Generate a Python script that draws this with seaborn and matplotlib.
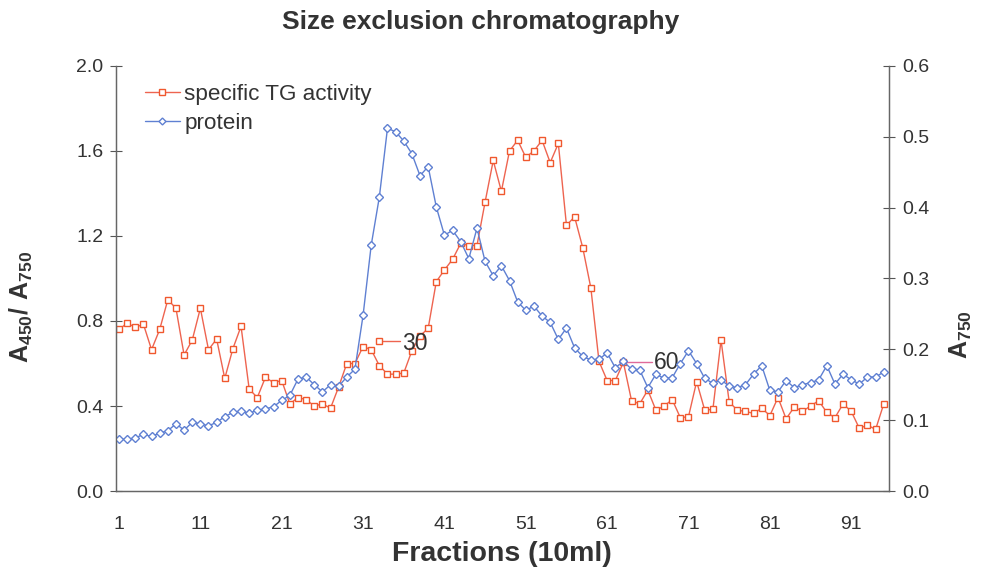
import matplotlib
matplotlib.use("Agg")
import matplotlib.pyplot as plt
import seaborn as sns
import pandas as pd
from matplotlib.lines import Line2D

sns.set_style("white")
plt.rcParams['font.family'] = ['Liberation Sans', 'DejaVu Sans']
plt.rcParams['mathtext.fontset'] = 'custom'
plt.rcParams['mathtext.rm'] = 'Liberation Sans'
plt.rcParams['mathtext.bf'] = 'Liberation Sans:bold'

fractions = list(range(1, 96))
tg_activity = [
    0.76, 0.79, 0.77, 0.785, 0.665, 0.76, 0.90, 0.86, 0.64, 0.71,
    0.86, 0.665, 0.715, 0.53, 0.67, 0.775, 0.48, 0.44, 0.535, 0.51,
    0.52, 0.41, 0.44, 0.43, 0.40, 0.41, 0.39, 0.49, 0.60, 0.60,
    0.68, 0.665, 0.59, 0.55, 0.55, 0.555, 0.66, 0.73, 0.765, 0.985,
    1.04, 1.09, 1.165, 1.155, 1.155, 1.36, 1.555, 1.41, 1.60, 1.65,
    1.57, 1.60, 1.65, 1.545, 1.635, 1.25, 1.29, 1.145, 0.955, 0.61,
    0.52, 0.52, 0.605, 0.425, 0.41, 0.475, 0.38, 0.40, 0.43, 0.345,
    0.35, 0.515, 0.38, 0.385, 0.71, 0.42, 0.38, 0.375, 0.365, 0.39,
    0.355, 0.44, 0.34, 0.395, 0.375, 0.40, 0.425, 0.37, 0.345, 0.41,
    0.375, 0.295, 0.31, 0.29, 0.41,
]
protein = [
    0.073, 0.073, 0.075, 0.080, 0.077, 0.082, 0.085, 0.095, 0.086, 0.097,
    0.095, 0.092, 0.097, 0.105, 0.111, 0.113, 0.110, 0.114, 0.116, 0.119,
    0.128, 0.135, 0.158, 0.161, 0.150, 0.140, 0.150, 0.148, 0.161, 0.172,
    0.248, 0.347, 0.415, 0.512, 0.507, 0.494, 0.476, 0.445, 0.458, 0.401,
    0.361, 0.368, 0.352, 0.328, 0.371, 0.324, 0.304, 0.318, 0.297, 0.267,
    0.255, 0.261, 0.247, 0.238, 0.214, 0.230, 0.202, 0.190, 0.185, 0.186,
    0.195, 0.174, 0.183, 0.172, 0.171, 0.146, 0.165, 0.159, 0.160, 0.180,
    0.198, 0.180, 0.159, 0.152, 0.157, 0.148, 0.146, 0.150, 0.165, 0.177,
    0.142, 0.140, 0.156, 0.146, 0.150, 0.153, 0.157, 0.177, 0.151, 0.165,
    0.157, 0.151, 0.161, 0.161, 0.168,
]
x_ticks = [1, 11, 21, 31, 41, 51, 61, 71, 81, 91]
left_ticks = [0.0, 0.4, 0.8, 1.2, 1.6, 2.0]
right_ticks = [0.0, 0.1, 0.2, 0.3, 0.4, 0.5, 0.6]
# data labels (fraction, value, text)
label30 = (33, 0.706, "30")
label60 = (63, 0.606, "60")

df = pd.DataFrame({"fraction": fractions, "tg": tg_activity, "protein": protein})

RED = "#ee6450"
RED_E = "#f0582e"
BLUE = "#5f80d2"
TXT = "#333333"

fig = plt.figure(figsize=(9.83, 5.73), dpi=100)
ax = fig.add_axes([0.118, 0.143, 0.786, 0.742])
ax2 = ax.twinx()

sns.lineplot(data=df, x="fraction", y="tg", ax=ax, color=RED, linewidth=1.0,
             marker="s", markersize=4.6, markerfacecolor="white",
             markeredgecolor=RED_E, markeredgewidth=1.0)
sns.lineplot(data=df, x="fraction", y="protein", ax=ax2, color=BLUE, linewidth=1.0,
             marker="D", markersize=4.0, markerfacecolor="white",
             markeredgecolor=BLUE, markeredgewidth=1.0)

# data label "30"
fx, fy, ft = label30
ax.plot([fx, fx + 2.5], [fy, fy], color=RED, linewidth=1.0)
ax.plot([fx], [fy], marker="s", markersize=4.6, markerfacecolor="white",
        markeredgecolor=RED_E, markeredgewidth=1.0, linestyle="none")
ax.text(fx + 2.8, fy - 0.01, ft, fontsize=16.5, color=TXT, va="center", ha="left")
# data label "60"
fx, fy, ft = label60
ax.plot([fx - 0.6, fx + 3.5], [fy, fy], color="#e06a9a", linewidth=1.0)
ax.text(fx + 3.8, fy, ft, fontsize=16.5, color=TXT, va="center", ha="left")

ax.set_xlim(0.63, 95.6)
ax.set_ylim(0, 2.0)
ax2.set_ylim(0, 0.6)
ax.set_xticks(x_ticks)
ax.set_xticklabels([str(t) for t in x_ticks])
ax.set_yticks(left_ticks)
ax.set_yticklabels([f"{t:.1f}" for t in left_ticks])
ax2.set_yticks(right_ticks)
ax2.set_yticklabels([f"{t:.1f}" for t in right_ticks])

for a in (ax, ax2):
    a.tick_params(axis="both", direction="inout", length=8, width=0.8,
                  color="#555555", labelsize=14, labelcolor=TXT)
    for s in a.spines.values():
        s.set_color("#666666")
        s.set_linewidth(0.9)
    a.spines["top"].set_visible(False)
ax.tick_params(axis="x", pad=14)
ax.tick_params(axis="y", pad=5)
ax2.tick_params(axis="y", pad=6)

ax.set_xlabel("Fractions (10ml)", fontsize=20.5, fontweight="bold", color=TXT)
ax.xaxis.set_label_coords(0.5, -0.118)
ax.set_ylabel(r"$\mathbf{A_{450}/\ A_{750}}$", fontsize=18, color=TXT)
ax.yaxis.set_label_coords(-0.105, 0.433)
ax2.set_ylabel(r"$\mathbf{A_{750}}$", fontsize=18, color=TXT)
ax2.yaxis.set_label_coords(1.077, 0.367)
fig.text(0.489, 0.962, "Size exclusion chromatography", fontsize=19,
         fontweight="bold", color=TXT, ha="center", va="center")

handles = [
    Line2D([], [], color=RED, linewidth=1.0, marker="s", markersize=4,
           markerfacecolor="white", markeredgecolor=RED_E),
    Line2D([], [], color=BLUE, linewidth=1.0, marker="D", markersize=3.5,
           markerfacecolor="white", markeredgecolor=BLUE),
]
leg = ax.legend(handles, ["specific TG activity", "protein"], loc="upper left",
                bbox_to_anchor=(0.02, 0.99), frameon=False, fontsize=16.2,
                handlelength=1.55, handletextpad=0.2, labelspacing=0.38,
                borderaxespad=0.2)
for t in leg.get_texts():
    t.set_color(TXT)

fig.savefig("out.png", dpi=100)
